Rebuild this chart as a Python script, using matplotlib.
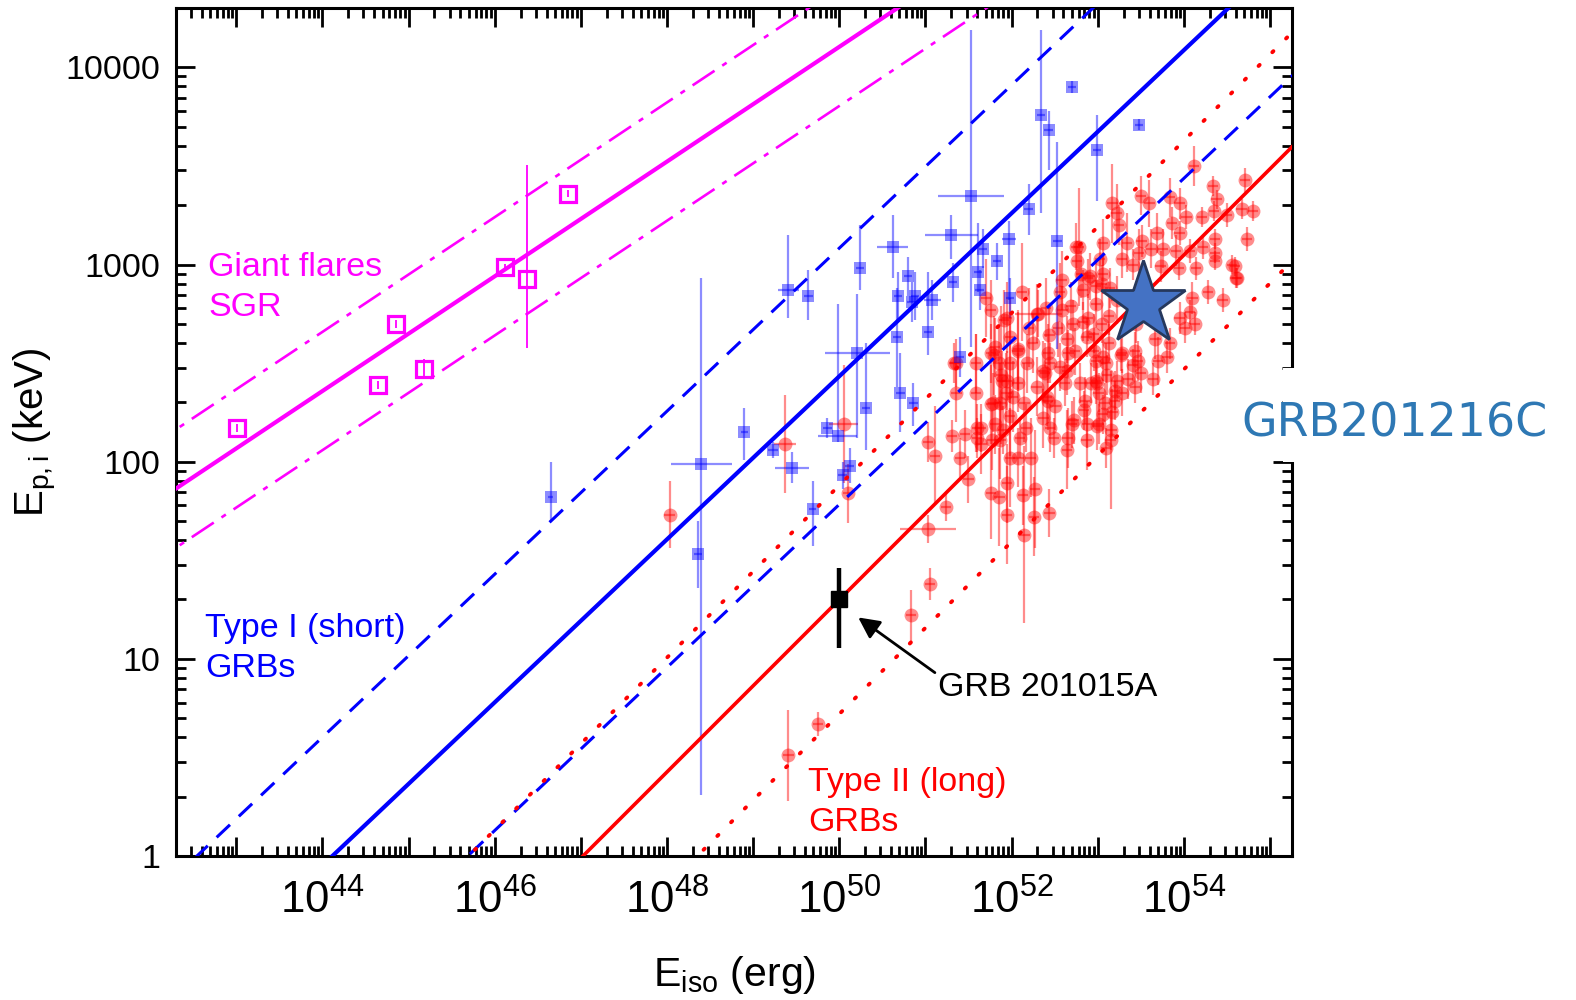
import numpy as np
import matplotlib
matplotlib.use("Agg")
import matplotlib.pyplot as plt
from matplotlib.ticker import FixedLocator, FuncFormatter, LogLocator, NullFormatter
from matplotlib.patches import Rectangle

# ---------------- data (log10 Eiso [erg], log10 Ep,i [keV]) ----------------
# SGR giant flares: (logE, logEp, err_up, err_dn)
sgr_points = [
    (43.01, 2.17, 0.02, 0.02),
    (44.65, 2.39, 0.02, 0.02),
    (44.86, 2.70, 0.02, 0.02),
    (45.18, 2.47, 0.05, 0.05),
    (46.12, 2.985, 0.02, 0.02),
    (46.38, 2.925, 0.58, 0.35),
    (46.85, 3.36, 0.02, 0.02),
]

# Type I (short) GRBs: (logE, logEp, err_up, err_dn, xerr)
short_points = [
    (46.65, 1.82, 0.18, 0.12, 0.03), (48.40, 1.99, 0.94, 1.68, 0.35),
    (48.36, 1.53, 0.17, 0.17, 0.05), (48.90, 2.15, 0.12, 0.14, 0.04),
    (49.23, 2.06, 0.04, 0.04, 0.06), (49.45, 1.97, 0.08, 0.08, 0.20),
    (49.86, 2.17, 0.05, 0.05, 0.05), (49.98, 2.13, 0.67, 0.03, 0.23),
    (50.21, 2.55, 0.30, 0.43, 0.38), (50.31, 2.27, 0.33, 0.21, 0.05),
    (50.12, 1.98, 0.09, 0.09, 0.05), (50.04, 1.93, 0.07, 0.07, 0.05),
    (49.69, 1.76, 0.14, 0.19, 0.04), (50.67, 2.63, 0.25, 0.25, 0.05),
    (50.71, 2.35, 0.20, 0.20, 0.05), (50.86, 2.30, 0.10, 0.12, 0.05),
    (51.03, 2.66, 0.30, 0.12, 0.05), (49.41, 2.87, 0.28, 0.14, 0.12),
    (49.64, 2.84, 0.13, 0.12, 0.05), (50.24, 2.98, 0.22, 0.11, 0.05),
    (50.62, 3.09, 0.16, 0.16, 0.18), (50.80, 2.94, 0.10, 0.10, 0.05),
    (50.68, 2.84, 0.12, 0.12, 0.05), (50.88, 2.84, 0.12, 0.12, 0.05),
    (50.84, 2.81, 0.10, 0.10, 0.05), (51.08, 2.82, 0.10, 0.10, 0.10),
    (51.53, 3.35, 0.84, 0.77, 0.38), (51.30, 3.15, 0.10, 0.12, 0.31),
    (52.20, 3.28, 0.13, 0.13, 0.05), (51.97, 3.13, 0.09, 0.31, 0.08),
    (52.53, 3.12, 0.50, 0.55, 0.05), (51.83, 3.02, 0.09, 0.10, 0.05),
    (51.67, 3.08, 0.10, 0.10, 0.05), (51.61, 2.96, 0.25, 0.10, 0.05),
    (51.63, 2.87, 0.10, 0.10, 0.05), (51.32, 2.91, 0.10, 0.10, 0.05),
    (51.98, 2.83, 0.10, 0.10, 0.05), (51.40, 2.53, 0.10, 0.10, 0.05),
    (52.70, 3.90, 0.03, 0.03, 0.05), (52.34, 3.76, 0.43, 0.50, 0.05),
    (52.43, 3.68, 0.10, 0.20, 0.05), (53.48, 3.71, 0.03, 0.03, 0.05),
    (52.99, 3.58, 0.18, 0.26, 0.05),
]

# Type II (long) GRBs: (logE, logEp, err_dex)
long_points = [
    (48.03, 1.73, 0.17), (49.75, 0.67, 0.06), (49.41, 0.51, 0.23), (50.10, 1.84, 0.15),
    (50.83, 1.22, 0.13), (51.05, 1.38, 0.08), (51.24, 1.77, 0.07), (51.03, 2.10, 0.10),
    (51.11, 2.03, 0.25), (51.31, 2.13, 0.08), (51.40, 2.02, 0.10), (51.50, 1.91, 0.12),
    (51.36, 2.35, 0.15), (51.35, 2.50, 0.12), (51.59, 2.35, 0.30), (51.60, 2.12, 0.10),
    (51.64, 2.17, 0.12), (51.77, 2.11, 0.15), (51.76, 1.84, 0.23), (51.86, 1.82, 0.25),
    (51.95, 1.89, 0.20), (51.95, 1.73, 0.25), (52.13, 1.83, 0.15), (52.27, 1.86, 0.30),
    (52.26, 1.72, 0.20), (52.15, 1.63, 0.45), (52.44, 1.74, 0.12), (51.80, 2.54, 0.20),
    (51.88, 2.44, 0.35), (51.95, 2.41, 0.15), (52.02, 2.33, 0.18), (51.87, 2.30, 0.20),
    (51.79, 2.30, 0.15), (51.90, 2.16, 0.12), (51.98, 2.23, 0.20), (51.98, 2.02, 0.25),
    (52.08, 2.02, 0.15), (52.10, 2.12, 0.10), (52.17, 2.17, 0.12), (52.22, 2.02, 0.20),
    (52.37, 2.22, 0.15), (52.45, 2.17, 0.12), (52.49, 2.12, 0.10), (52.41, 2.33, 0.15),
    (52.45, 2.50, 0.10), (52.51, 2.28, 0.12), (52.64, 2.06, 0.20), (52.72, 2.21, 0.12),
    (52.84, 2.26, 0.10), (52.87, 2.11, 0.15), (52.92, 2.40, 0.10), (52.99, 2.18, 0.12),
    (52.98, 2.51, 0.08), (52.64, 2.46, 0.12), (52.37, 2.46, 0.15), (53.08, 2.30, 0.10),
    (53.17, 2.25, 0.12), (53.15, 2.11, 0.35), (53.10, 2.07, 0.10), (53.01, 2.19, 0.10),
    (53.27, 2.54, 0.08), (53.47, 2.51, 0.10), (53.70, 2.51, 0.12), (53.41, 2.49, 0.08),
    (53.50, 2.45, 0.10), (53.64, 2.42, 0.08), (53.35, 2.42, 0.10), (53.43, 2.38, 0.08),
    (53.28, 2.35, 0.12), (53.20, 2.36, 0.10), (53.11, 2.44, 0.10), (53.06, 2.53, 0.12),
    (52.99, 2.40, 0.10), (53.01, 2.35, 0.10), (53.20, 2.31, 0.10),
    (54.12, 3.50, 0.10), (54.71, 3.43, 0.06), (54.34, 3.40, 0.05), (54.38, 3.33, 0.05),
    (53.84, 3.34, 0.10), (53.95, 3.31, 0.08), (53.60, 3.31, 0.12), (53.50, 3.35, 0.10),
    (53.22, 3.26, 0.15), (53.25, 3.20, 0.10), (53.51, 3.12, 0.08), (53.69, 3.16, 0.10),
    (53.86, 3.21, 0.08), (53.95, 3.16, 0.06), (54.03, 3.24, 0.06), (54.21, 3.24, 0.05),
    (54.35, 3.27, 0.05), (54.50, 3.25, 0.06), (54.67, 3.28, 0.05), (54.80, 3.27, 0.05),
    (54.73, 3.13, 0.06), (54.36, 3.13, 0.05), (54.36, 3.06, 0.05), (54.22, 3.09, 0.06),
    (54.07, 3.07, 0.06), (53.91, 3.07, 0.08), (53.76, 3.08, 0.10), (53.62, 3.08, 0.10),
    (53.48, 3.06, 0.12), (53.34, 3.11, 0.15), (53.06, 3.11, 0.12), (53.03, 3.03, 0.10),
    (53.28, 3.03, 0.10), (53.41, 3.00, 0.08), (53.73, 2.99, 0.08), (53.94, 2.98, 0.06),
    (54.14, 2.98, 0.06), (54.36, 3.02, 0.05), (54.59, 2.99, 0.05), (54.62, 2.93, 0.05),
    (54.28, 2.86, 0.06), (54.45, 2.82, 0.06), (54.10, 2.83, 0.08), (54.07, 2.76, 0.06),
    (54.13, 2.70, 0.06), (54.01, 2.68, 0.08), (53.84, 2.60, 0.08), (53.28, 2.55, 0.10),
    (53.43, 2.56, 0.10), (53.81, 2.53, 0.08), (53.95, 2.73, 0.08), (53.06, 2.95, 0.10),
    (53.14, 2.88, 0.10), (54.56, 3.00, 0.05), (54.60, 2.93, 0.05), (53.67, 2.62, 0.10),
    (53.45, 2.70, 0.10), (53.13, 2.74, 0.10), (53.22, 2.82, 0.12), (53.05, 2.90, 0.10),
    (52.91, 2.94, 0.12), (52.78, 3.09, 0.30), (52.76, 3.02, 0.10), (52.58, 2.92, 0.15),
    (52.83, 2.87, 0.10), (52.98, 2.80, 0.12), (53.05, 2.70, 0.10), (52.83, 2.71, 0.10),
    (52.71, 2.70, 0.12), (52.87, 2.63, 0.10), (52.74, 2.56, 0.12), (52.96, 2.56, 0.10),
    (53.10, 2.50, 0.10), (53.22, 2.41, 0.10), (52.98, 2.41, 0.12), (53.13, 2.60, 0.10),
    (52.44, 2.64, 0.15), (52.64, 2.62, 0.12), (52.42, 2.55, 0.15), (52.56, 2.48, 0.12),
    (52.39, 2.45, 0.15), (52.62, 2.40, 0.12), (52.42, 2.31, 0.15), (52.80, 2.40, 0.10),
    (52.85, 2.31, 0.12), (53.06, 2.24, 0.10), (53.16, 2.16, 0.10), (52.88, 2.19, 0.12),
    (52.70, 2.19, 0.12), (52.65, 2.12, 0.15), (52.59, 2.77, 0.12), (52.40, 2.78, 0.15),
    (52.29, 2.75, 0.15), (52.20, 2.68, 0.20), (52.25, 2.60, 0.15), (52.07, 2.56, 0.20),
    (52.18, 2.50, 0.15), (51.98, 2.50, 0.20), (52.07, 2.40, 0.15), (52.29, 2.38, 0.15),
    (52.15, 2.30, 0.20), (51.94, 2.35, 0.20), (51.89, 2.41, 0.15), (51.85, 2.50, 0.20),
    (51.81, 2.58, 0.15), (51.98, 2.63, 0.20), (51.91, 2.72, 0.15), (51.76, 2.55, 0.15),
    (51.59, 2.50, 0.15), (51.76, 2.29, 0.20), (51.81, 2.19, 0.15), (51.87, 2.11, 0.20),
    (51.65, 2.09, 0.15), (51.46, 2.14, 0.12), (51.60, 2.17, 0.12), (51.33, 2.50, 0.10),
    (52.12, 2.86, 0.25), (53.17, 3.31, 0.20), (52.75, 3.09, 0.12), (52.81, 2.95, 0.12),
    (52.89, 2.93, 0.10), (52.98, 2.89, 0.12), (52.56, 2.86, 0.15), (52.69, 2.79, 0.12),
    (52.89, 2.73, 0.12), (52.54, 2.68, 0.15), (52.08, 2.57, 0.20), (51.70, 2.83, 0.20),
    (51.95, 2.73, 0.18), (52.66, 2.55, 0.12), (52.96, 2.65, 0.10), (51.76, 2.77, 0.15),
]
long_xerr_default = 0.06
# long GRBs with wide Eiso error bars: (logE, logEp, err_dex, xerr_dex)
long_wide = [
    (49.37, 2.09, 0.25, 0.13), (50.05, 2.19, 0.30, 0.17),
    (51.03, 1.66, 0.07, 0.33), (52.31, 2.75, 0.12, 0.27),
]

# GRB 201015A
grb_a_logE, grb_a_Ep, grb_a_lo, grb_a_hi = 50.0, 20.0, 11.3, 28.8
# GRB 201216C (star)
grb_c_logE, grb_c_Ep = 53.53, 630.0

# correlations: log Ep = norm + slope*(log E - 52)
sgr_slope, sgr_norm, sgr_band = 0.291, 4.686, 0.30
short_slope, short_norm, short_band = 0.4135, 3.260, 0.65
long_slope, long_norm, long_band = 0.437, 2.174, 0.58

x_tick_exps = list(range(44, 55, 2))
y_ticks = [1, 10, 100, 1000, 10000]

# ---------------- style ----------------
plt.rcParams['font.family'] = ['Liberation Sans', 'DejaVu Sans']
plt.rcParams['mathtext.fontset'] = 'custom'
plt.rcParams['mathtext.rm'] = 'Liberation Sans'
plt.rcParams['mathtext.it'] = 'Liberation Sans:italic'
plt.rcParams['mathtext.bf'] = 'Liberation Sans:bold'

fig = plt.figure(figsize=(15.76, 10), dpi=100)
ax = fig.add_axes([176 / 1576, 144 / 1000, 1116 / 1576, 848 / 1000])
ax.set_xscale('log')
ax.set_yscale('log')
ax.set_xlim(2e42, 1.8e55)
ax.set_ylim(1, 2e4)

logE_grid = np.linspace(42, 56, 400)
Egrid = 10 ** logE_grid


def rel(norm, slope, shift=0.0):
    return 10 ** (norm + shift + slope * (logE_grid - 52))


MAG = '#FF00FF'
# SGR lines
ax.plot(Egrid, rel(sgr_norm, sgr_slope), color=MAG, lw=3.0, zorder=4)
for s in (+1, -1):
    ax.plot(Egrid, rel(sgr_norm, sgr_slope, s * sgr_band), color=MAG, lw=1.9,
            linestyle=(0, (10, 3.5, 2, 3.5)), zorder=4)
# short lines
ax.plot(Egrid, rel(short_norm, short_slope), color='#0000FF', lw=3.0, zorder=4)
for s in (+1, -1):
    ax.plot(Egrid, rel(short_norm, short_slope, s * short_band), color='#0000FF',
            lw=2.2, linestyle=(0, (6, 4)), zorder=4)
# long lines
ax.plot(Egrid, rel(long_norm, long_slope), color='#FF0000', lw=2.6, zorder=4)
for s in (+1, -1):
    ax.plot(Egrid, rel(long_norm, long_slope, s * long_band), color='#FF0000',
            lw=2.8, linestyle=(0, (0.4, 4.6)), dash_capstyle='round', zorder=4)

# long GRB points
lp = np.array(long_points)
lE, lEp, lerr = lp[:, 0], lp[:, 1], lp[:, 2]
ax.errorbar(10 ** lE, 10 ** lEp,
            xerr=[10 ** lE - 10 ** (lE - long_xerr_default), 10 ** (lE + long_xerr_default) - 10 ** lE],
            yerr=[10 ** lEp - 10 ** (lEp - lerr), 10 ** (lEp + lerr) - 10 ** lEp],
            fmt='o', color='#FF0000', ms=10, mew=0, elinewidth=1.6, capsize=0,
            alpha=0.45, zorder=3)
lw_ = np.array(long_wide)
wE, wEp, werr, wx = lw_[:, 0], lw_[:, 1], lw_[:, 2], lw_[:, 3]
ax.errorbar(10 ** wE, 10 ** wEp,
            xerr=[10 ** wE - 10 ** (wE - wx), 10 ** (wE + wx) - 10 ** wE],
            yerr=[10 ** wEp - 10 ** (wEp - werr), 10 ** (wEp + werr) - 10 ** wEp],
            fmt='o', color='#FF0000', ms=10, mew=0, elinewidth=1.6, capsize=0,
            alpha=0.45, zorder=3)

# short GRB points
sp = np.array(short_points)
sE, sEp, sup, sdn, sx = sp[:, 0], sp[:, 1], sp[:, 2], sp[:, 3], sp[:, 4]
ax.errorbar(10 ** sE, 10 ** sEp,
            xerr=[10 ** sE - 10 ** (sE - sx), 10 ** (sE + sx) - 10 ** sE],
            yerr=[10 ** sEp - 10 ** (sEp - sdn), 10 ** (sEp + sup) - 10 ** sEp],
            fmt='s', color='#0000FF', ms=8, mew=0, elinewidth=1.6, capsize=0,
            alpha=0.45, zorder=3)

# SGR points
gp = np.array(sgr_points)
gE, gEp, gup, gdn = gp[:, 0], gp[:, 1], gp[:, 2], gp[:, 3]
ax.errorbar(10 ** gE, 10 ** gEp,
            yerr=[10 ** gEp - 10 ** (gEp - gdn), 10 ** (gEp + gup) - 10 ** gEp],
            fmt='s', mfc='none', mec=MAG, ecolor=MAG, ms=11.5, mew=2.3,
            elinewidth=1.3, capsize=0, zorder=5)

# GRB 201015A
ax.errorbar([10 ** grb_a_logE], [grb_a_Ep],
            yerr=[[grb_a_Ep - grb_a_lo], [grb_a_hi - grb_a_Ep]],
            fmt='s', color='black', ms=11, elinewidth=3.2, capsize=0, zorder=6)
ax.annotate('', xy=(10 ** 50.22, 10 ** 1.21), xytext=(10 ** 51.11, 10 ** 0.93),
            arrowprops=dict(arrowstyle='-|>', color='black', lw=2,
                            mutation_scale=32, shrinkA=0, shrinkB=0), zorder=6)

# GRB 201216C star
ax.plot([10 ** grb_c_logE], [grb_c_Ep], marker='*', ms=63, mfc='#4472C4',
        mec='#26385C', mew=2, zorder=7, linestyle='none')

# ---------------- axes ----------------
ax.xaxis.set_major_locator(FixedLocator(10.0 ** np.arange(42, 57)))
ax.xaxis.set_major_formatter(FuncFormatter(
    lambda v, p: (r'$\mathregular{10^{%d}}$' % round(np.log10(v)))
    if round(np.log10(v)) in x_tick_exps else ''))
ax.xaxis.set_minor_locator(LogLocator(base=10, subs=np.arange(2, 10), numticks=100))
ax.xaxis.set_minor_formatter(NullFormatter())
ax.yaxis.set_major_locator(FixedLocator(y_ticks))
ax.yaxis.set_major_formatter(FuncFormatter(lambda v, p: '%d' % v))
ax.yaxis.set_minor_locator(LogLocator(base=10, subs=np.arange(2, 10), numticks=100))
ax.yaxis.set_minor_formatter(NullFormatter())

ax.tick_params(which='both', direction='in', top=True, right=True, width=2)
ax.tick_params(which='major', length=14)
ax.tick_params(which='minor', length=7)
ax.tick_params(axis='x', which='major', labelsize=31.5, pad=17)
ax.tick_params(axis='y', which='major', labelsize=24.5, pad=11)
for sp_ in ax.spines.values():
    sp_.set_linewidth(2.2)

ax.text(0.5, -0.14, r'E$_{\mathrm{iso}}$ (erg)', transform=ax.transAxes,
        ha='center', va='center', fontsize=29.5)
ax.text(-0.1263, 0.5, r'E$_{\mathrm{p,i}}$ (keV)', transform=ax.transAxes,
        ha='center', va='center', rotation=90, fontsize=29)

ax.text(0.0287, 0.6704, 'Giant flares\nSGR', transform=ax.transAxes, color=MAG,
        ha='left', va='center', fontsize=24.5, linespacing=1.38)
ax.text(0.026, 0.2447, 'Type I (short)\nGRBs', transform=ax.transAxes, color='#0000FF',
        ha='left', va='center', fontsize=24.5, linespacing=1.38)
ax.text(0.5663, 0.0636, 'Type II (long)\nGRBs', transform=ax.transAxes, color='#FF0000',
        ha='left', va='center', fontsize=24.5, linespacing=1.38)
ax.text(0.6828, 0.199, 'GRB 201015A', transform=ax.transAxes, color='black',
        ha='left', va='center', fontsize=24.5)

# white patch interrupting right spine and the GRB201216C label
fig.add_artist(Rectangle((1283 / 1576, (1000 - 462) / 1000), 18 / 1576, 94 / 1000,
                         transform=fig.transFigure, facecolor='white',
                         edgecolor='none', zorder=5))
fig.text(1394 / 1576, 0.576, 'GRB201216C', color='#2E78B4', fontsize=33,
         family='DejaVu Sans', ha='center', va='center', zorder=6)

fig.savefig('out.png', dpi=100, facecolor='white')
